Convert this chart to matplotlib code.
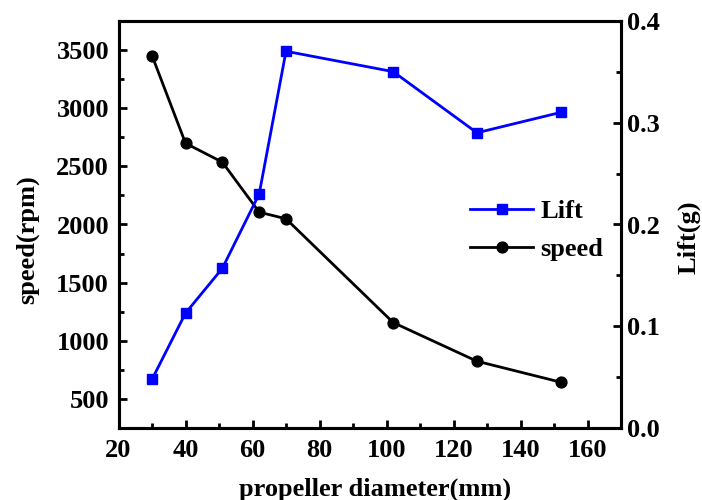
import matplotlib
matplotlib.use("Agg")
import matplotlib.pyplot as plt
from matplotlib.ticker import MultipleLocator, FormatStrFormatter

plt.rcParams['font.family'] = ['Liberation Serif', 'DejaVu Serif']
plt.rcParams['font.weight'] = 'bold'

diameter = [30, 40, 51, 62, 70, 102, 127, 152]
speed = [3451, 2698, 2535, 2106, 2049, 1158, 826, 646]
lift = [0.048, 0.113, 0.157, 0.230, 0.370, 0.350, 0.290, 0.310]

fig = plt.figure(figsize=(7.02, 5.0), dpi=100)
L, R, T, B = 118.5, 621.0, 20.7, 428.3
W, H = R - L, B - T
ax = fig.add_axes([L/702, 1-B/500, W/702, H/500])
ax2 = ax.twinx()

l_speed, = ax.plot(diameter, speed, color='black', marker='o', markersize=7.8, linewidth=2.0, label='speed')
l_lift, = ax2.plot(diameter, lift, color='#0000ff', marker='s', markersize=7.2, linewidth=2.0, label='Lift')

ax.set_xlim(20, 170)
ax.set_ylim(250, 3750)
ax2.set_ylim(0, 0.4)

ax.xaxis.set_major_locator(MultipleLocator(20))
ax.xaxis.set_minor_locator(MultipleLocator(10))
ax.yaxis.set_major_locator(MultipleLocator(500))
ax.yaxis.set_minor_locator(MultipleLocator(250))
ax2.yaxis.set_major_locator(MultipleLocator(0.1))
ax2.yaxis.set_minor_locator(MultipleLocator(0.05))
ax2.yaxis.set_major_formatter(FormatStrFormatter('%.1f'))

for a in (ax, ax2):
    for s in a.spines.values():
        s.set_linewidth(2.2)
    a.tick_params(which='major', direction='in', length=6, width=2, labelsize=19)
    a.tick_params(which='minor', direction='in', length=3.5, width=2)

ax.tick_params(axis='x', pad=7.5)
ax.tick_params(axis='y', pad=6.8)
ax2.tick_params(axis='y', pad=4.5)

ax.set_xlabel('propeller diameter(mm)', fontsize=19, fontweight='bold')
ax.set_ylabel('speed(rpm)', fontsize=19, fontweight='bold')
ax2.set_ylabel('Lift(g)', fontsize=19, fontweight='bold')
ax.xaxis.set_label_coords((375 - L) / W, (B - 478) / H)
ax.yaxis.set_label_coords((39 - L) / W, (B - 240) / H)
ax2.yaxis.set_label_coords((677 - L) / W, (B - 237) / H)

ax2.legend(handles=[l_lift, l_speed], loc='center left', bbox_to_anchor=((470 - L) / W, (B - 230.5) / H),
           frameon=False, handlelength=2.4, handletextpad=0.27, labelspacing=0.55,
           borderpad=0, borderaxespad=0, prop={'weight': 'bold', 'size': 19})

fig.savefig('out.png', dpi=100)
